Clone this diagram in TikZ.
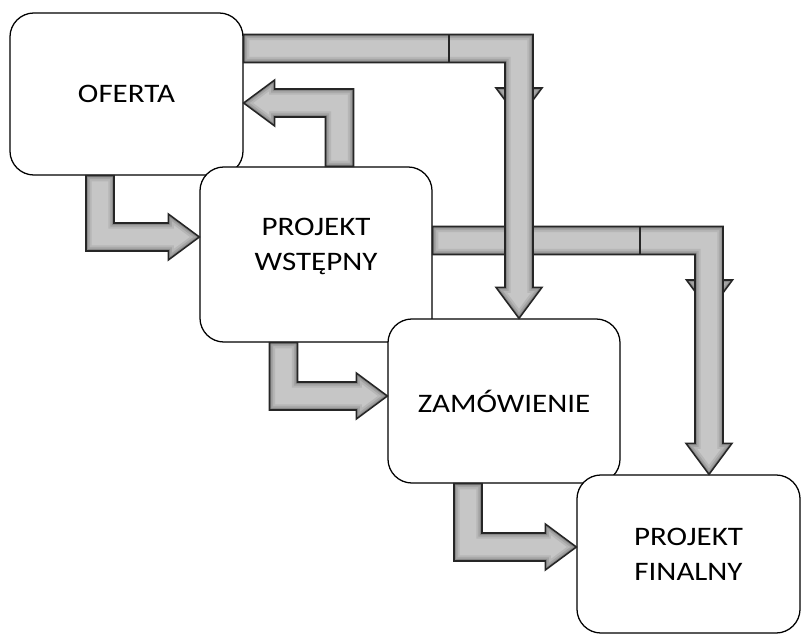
\documentclass[tikz,border=0pt]{standalone}
\usepackage{fontspec}
\setmainfont{Carlito}[FakeStretch=1.16]
\usetikzlibrary{calc}

\tikzset{
  etap/.style={draw, line width=0.9pt, fill=white, rounded corners=0.6cm,
    align=center, font=\fontsize{19}{24.8}\selectfont},
  arrowfill/.style={fill=gray!45},
  arrowline/.style={draw=black!85, line width=1.1pt, line join=miter},
}
% shaft half width, head half width, head length (px)
\def\arw{14}
\def\arh{23}
\def\arl{31}

% filled block arrow with darker rim
\newcommand\arrowbody[1]{%
  \fill[arrowfill] #1;
  \begin{scope}
    \clip #1;
    \draw[line width=8pt, black, opacity=0.08] #1;
    \draw[line width=5pt, black, opacity=0.1] #1;
    \draw[line width=2.5pt, black, opacity=0.15] #1;
  \end{scope}
  \draw[arrowline] #1;}

% vertical first, then horizontal: start, tip, x sign, y sign
\newcommand\vharrow[4]{%
  \arrowbody{($(#1)+({-(#3)*\arw},0)$)
    -- ($(#1 |- #2)+({-(#3)*\arw},{(#4)*\arw})$)
    -- ($(#2)+({-(#3)*\arl},{(#4)*\arw})$)
    -- ($(#2)+({-(#3)*\arl},{(#4)*\arh})$)
    -- (#2)
    -- ($(#2)+({-(#3)*\arl},{-(#4)*\arh})$)
    -- ($(#2)+({-(#3)*\arl},{-(#4)*\arw})$)
    -- ($(#1 |- #2)+({(#3)*\arw},{-(#4)*\arw})$)
    -- ($(#1)+({(#3)*\arw},0)$) -- cycle}}

% horizontal first, then vertical
\newcommand\hvarrow[4]{%
  \arrowbody{($(#1)+(0,{-(#4)*\arw})$)
    -- ($(#2 |- #1)+({(#3)*\arw},{-(#4)*\arw})$)
    -- ($(#2)+({(#3)*\arw},{-(#4)*\arl})$)
    -- ($(#2)+({(#3)*\arh},{-(#4)*\arl})$)
    -- (#2)
    -- ($(#2)+({-(#3)*\arh},{-(#4)*\arl})$)
    -- ($(#2)+({-(#3)*\arw},{-(#4)*\arl})$)
    -- ($(#2 |- #1)+({-(#3)*\arw},{(#4)*\arw})$)
    -- ($(#1)+(0,{(#4)*\arw})$) -- cycle}}

% arrow head left under a shaft
\newcommand\hiddenhead[1]{%
  \arrowbody{($(#1)+(-\arh,0)$) -- ($(#1)+(\arh,0)$) -- ($(#1)+(0,\arl)$) -- cycle}}

\begin{document}
\begin{tikzpicture}[x=0.025cm, y=-0.025cm]
\useasboundingbox (0,0) rectangle (802,635);

\node[etap, minimum width=5.825cm, minimum height=4.05cm] (oferta) at (126.5,94) {OFERTA};
\node[etap, minimum width=5.8cm, minimum height=4.375cm, text depth=14pt] (wstepny) at (316,254.5) {PROJEKT\\WSTĘPNY};
\node[etap, minimum width=5.8cm, minimum height=4.1cm] (zamowienie) at (504,401) {ZAMÓWIENIE};
\node[etap, minimum width=5.575cm, minimum height=3.95cm] (finalny) at (688.5,554) {PROJEKT\\FINALNY};

\coordinate (s1) at (100,0 |- oferta.south);
\coordinate (t1) at (wstepny.west |- 0,237);
\coordinate (s2) at (283.5,0 |- wstepny.south);
\coordinate (t2) at (zamowienie.west |- 0,396);
\coordinate (s3) at (468,0 |- zamowienie.south);
\coordinate (t3) at (finalny.west |- 0,547);
\coordinate (s4) at (339.5,0 |- wstepny.north);
\coordinate (t4) at (oferta.east |- 0,103);
\coordinate (s5) at (oferta.east |- 0,48.5);
\coordinate (t5) at (519,0 |- zamowienie.north);
\coordinate (s6) at (wstepny.east |- 0,240.5);
\coordinate (t6) at (709,0 |- finalny.north);
\coordinate (h5) at (519,88);
\coordinate (h6) at (709.5,280);

\vharrow{s1}{t1}{1}{1}
\vharrow{s2}{t2}{1}{1}
\vharrow{s3}{t3}{1}{1}
\vharrow{s4}{t4}{-1}{-1}

\hiddenhead{h6}
\hvarrow{s6}{t6}{1}{1}
\draw[arrowline] (640,226.5) -- (640,254.5);

\hiddenhead{h5}
\hvarrow{s5}{t5}{1}{1}
\draw[arrowline] (449,34.5) -- (449,62.5);
\end{tikzpicture}
\end{document}
